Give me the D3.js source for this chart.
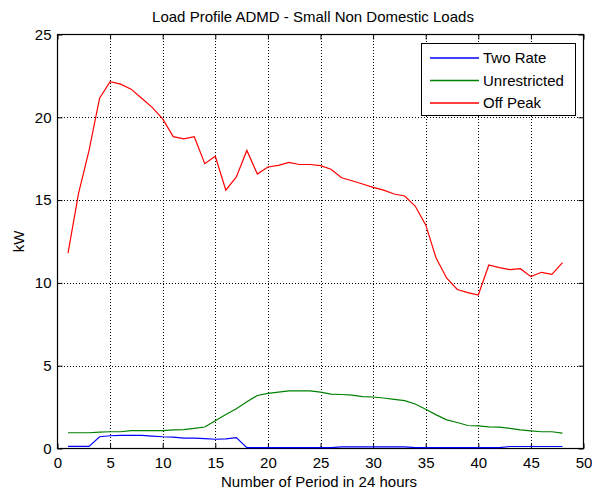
<!DOCTYPE html>
<html>
<head>
<meta charset="utf-8">
<script src="https://cdn.jsdelivr.net/npm/d3@7"></script>
<style>
  body { margin: 0; background: #fff; }
  text { font-family: "Liberation Sans", Arial, sans-serif; }
</style>
</head>
<body>
<svg id="chart" width="592" height="493"></svg>
<script>
"use strict";

const periods = d3.range(1, 49);
const twoRate = [0.13, 0.13, 0.13, 0.71, 0.77, 0.79, 0.79, 0.79, 0.75, 0.71,
                 0.69, 0.63, 0.63, 0.6, 0.56, 0.58, 0.66, 0.05, 0.05, 0.05,
                 0.05, 0.05, 0.05, 0.05, 0.05, 0.05, 0.1, 0.1, 0.1, 0.1,
                 0.1, 0.1, 0.1, 0.05, 0.05, 0.05, 0.05, 0.05, 0.05, 0.05,
                 0.05, 0.05, 0.12, 0.12, 0.12, 0.12, 0.12, 0.12];
const unrestricted = [0.95, 0.95, 0.95, 0.99, 1.01, 1.01, 1.08, 1.08, 1.08, 1.08,
                      1.12, 1.14, 1.22, 1.3, 1.68, 2.05, 2.4, 2.83, 3.2, 3.33,
                      3.4, 3.48, 3.48, 3.48, 3.4, 3.28, 3.26, 3.22, 3.13, 3.11,
                      3.05, 2.97, 2.89, 2.69, 2.37, 2.03, 1.73, 1.57, 1.39, 1.37,
                      1.31, 1.29, 1.21, 1.13, 1.07, 1.01, 1.01, 0.93];
const offPeak = [11.8, 15.4, 18.0, 21.15, 22.15, 22.0, 21.7, 21.15, 20.6, 19.9,
                 18.83, 18.7, 18.83, 17.2, 17.65, 15.6, 16.4, 18.0, 16.57, 17.0,
                 17.1, 17.28, 17.15, 17.15, 17.08, 16.86, 16.35, 16.17, 15.97, 15.77,
                 15.6, 15.37, 15.25, 14.64, 13.5, 11.48, 10.28, 9.6, 9.41, 9.27,
                 11.08, 10.92, 10.8, 10.86, 10.38, 10.64, 10.52, 11.22];

const seriesNames = ["Two Rate", "Unrestricted", "Off Peak"];
const seriesColors = ["#0000ff", "#008000", "#ff0000"];
const seriesValues = [twoRate, unrestricted, offPeak];

const xTicks = [0, 5, 10, 15, 20, 25, 30, 35, 40, 45, 50];
const yTicks = [0, 5, 10, 15, 20, 25];

const plotLeft = 57.5, plotRight = 583.5, plotTop = 34.5, plotBottom = 448.5;
const fontSize = 15;

const svg = d3.select("#chart");

const xScale = d3.scaleLinear().domain([0, 50]).range([plotLeft, plotRight]);
const yScale = d3.scaleLinear().domain([0, 25]).range([plotBottom, plotTop]);

// dotted grid
const grid = svg.append("g").attr("stroke", "#000").attr("stroke-width", 1)
    .attr("stroke-dasharray", "1,2").attr("shape-rendering", "crispEdges");
grid.selectAll("line.gx").data(xTicks.slice(1, -1)).join("line")
    .attr("x1", d => Math.round(xScale(d)) + 0.5).attr("x2", d => Math.round(xScale(d)) + 0.5)
    .attr("y1", plotTop).attr("y2", plotBottom);
grid.selectAll("line.gy").data(yTicks.slice(1, -1)).join("line")
    .attr("y1", d => Math.round(yScale(d)) + 0.5).attr("y2", d => Math.round(yScale(d)) + 0.5)
    .attr("x1", plotLeft).attr("x2", plotRight);

// axes with inward ticks
const xAxis = d3.axisBottom(xScale).tickValues(xTicks).tickSizeInner(-5).tickSizeOuter(0).tickPadding(9);
const yAxis = d3.axisLeft(yScale).tickValues(yTicks).tickSizeInner(-5).tickSizeOuter(0).tickPadding(6);

function styleAxis(g) {
  g.select(".domain").remove();
  g.selectAll("line").attr("stroke", "#000");
  g.selectAll("text").attr("font-size", fontSize).attr("fill", "#000")
    .style("font-family", "'Liberation Sans', Arial, sans-serif");
}

svg.append("g").attr("transform", `translate(0,${plotBottom})`).call(xAxis).call(styleAxis);
svg.append("g").attr("transform", `translate(${plotLeft},0)`).call(yAxis).call(styleAxis);
svg.append("g").attr("transform", `translate(0,${plotTop})`)
    .call(d3.axisTop(xScale).tickValues(xTicks).tickSizeInner(-5).tickSizeOuter(0).tickFormat(""))
    .call(styleAxis);
svg.append("g").attr("transform", `translate(${plotRight},0)`)
    .call(d3.axisRight(yScale).tickValues(yTicks).tickSizeInner(-5).tickSizeOuter(0).tickFormat(""))
    .call(styleAxis);

// box
svg.append("rect").attr("x", plotLeft).attr("y", plotTop)
    .attr("width", plotRight - plotLeft).attr("height", plotBottom - plotTop)
    .attr("fill", "none").attr("stroke", "#000").attr("stroke-width", 1.2);

// lines
const line = d3.line().x((d, i) => xScale(periods[i])).y(d => yScale(d));
svg.append("g").selectAll("path").data(seriesValues).join("path")
    .attr("d", d => line(d))
    .attr("fill", "none")
    .attr("stroke", (d, i) => seriesColors[i])
    .attr("stroke-width", 1.2);

// title and labels
svg.append("text").attr("x", 313).attr("y", 22)
    .attr("text-anchor", "middle").attr("font-size", fontSize)
    .text("Load Profile ADMD - Small Non Domestic Loads");
svg.append("text").attr("x", 319).attr("y", 486.5)
    .attr("text-anchor", "middle").attr("font-size", fontSize)
    .text("Number of Period in 24 hours");
svg.append("text").attr("transform", `translate(24,${(plotTop + plotBottom) / 2}) rotate(-90)`)
    .attr("text-anchor", "middle").attr("font-size", fontSize)
    .text("kW");

// legend
const legend = svg.append("g");
legend.append("rect").attr("x", 421.5).attr("y", 43.5).attr("width", 154).attr("height", 72)
    .attr("fill", "#fff").attr("stroke", "#000").attr("stroke-width", 1);
const entries = legend.selectAll("g").data(seriesNames).join("g")
    .attr("transform", (d, i) => `translate(0,${58 + i * 22.5})`);
entries.append("line").attr("x1", 430).attr("x2", 479)
    .attr("stroke", (d, i) => seriesColors[i]).attr("stroke-width", 1.4);
entries.append("text").attr("x", 483).attr("y", 5).attr("font-size", fontSize)
    .text(d => d);
</script>
</body>
</html>
